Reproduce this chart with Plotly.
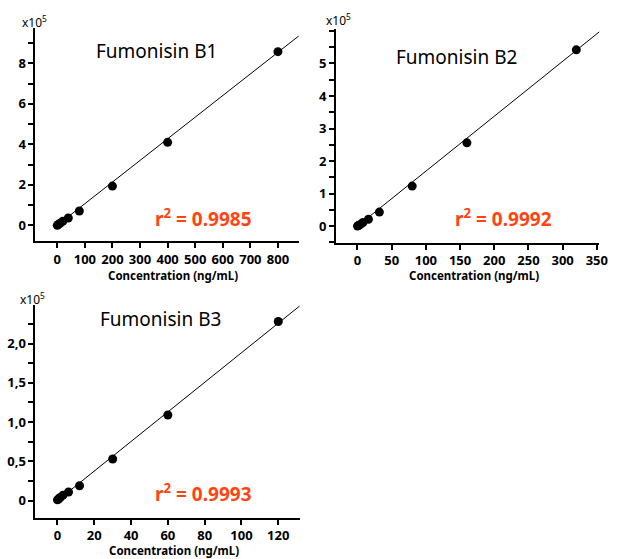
import numpy as np
import plotly.graph_objects as go

# ---------------- data (peak area in units of 1e5) ----------------
b1_conc = [0, 4, 10, 20, 40, 80, 200, 400, 800]
b1_area = [0.0, 0.04, 0.10, 0.20, 0.36, 0.71, 1.94, 4.10, 8.58]

b2_conc = [0, 1.6, 4, 8, 16, 32, 80, 160, 320]
b2_area = [0.0, 0.02, 0.05, 0.11, 0.21, 0.43, 1.23, 2.56, 5.42]

b3_conc = [0, 0.6, 1.5, 3, 6, 12, 30, 60, 120]
b3_area = [0.01, 0.02, 0.04, 0.07, 0.11, 0.19, 0.53, 1.09, 2.28]

titles = ["Fumonisin B1", "Fumonisin B2", "Fumonisin B3"]
r2_text = ["0.9985", "0.9992", "0.9993"]

b1_xticks = [0, 100, 200, 300, 400, 500, 600, 700, 800]
b2_xticks = [0, 50, 100, 150, 200, 250, 300, 350]
b3_xticks = [0, 20, 40, 60, 80, 100, 120]

b1_yticks = [0, 2, 4, 6, 8]
b2_yticks = [0, 1, 2, 3, 4, 5]
b3_yticks = [0, 0.5, 1.0, 1.5, 2.0]
b3_yticktext = ["0", "0,5", "1,0", "1,5", "2,0"]

W, H = 624, 559
FONT = "Noto Sans"
RED = "#FF4412"

fig = go.Figure()

panels = [
    dict(conc=b1_conc, area=b1_area, xdom=(36, 303), ydom=(28, 241), xr=(-79, 875), yr=(-0.775, 9.75),
         xt=b1_xticks, yt=b1_yticks, ytt=[str(v) for v in b1_yticks], ymin=1,
         title_xy=(159, 51), r2_xy=(206, 218), xlab_xy=(176, 275), e_xy=(35, 22)),
    dict(conc=b2_conc, area=b2_area, xdom=(341, 608), ydom=(29, 242.7), xr=(-31.3, 353.5), yr=(-0.51, 6.06),
         xt=b2_xticks, yt=b2_yticks, ytt=[str(v) for v in b2_yticks], ymin=0.5,
         title_xy=(463, 57), r2_xy=(511, 218), xlab_xy=(481, 275), e_xy=(343, 20)),
    dict(conc=b3_conc, area=b3_area, xdom=(36, 304), ydom=(305, 517.7), xr=(-11.95, 131.6), yr=(-0.217, 2.49),
         xt=b3_xticks, yt=b3_yticks, ytt=b3_yticktext, ymin=0.25,
         title_xy=(163, 319), r2_xy=(206, 493), xlab_xy=(177, 550), e_xy=(33, 299)),
]

annotations = []
for i, p in enumerate(panels):
    n = "" if i == 0 else str(i + 1)
    xa, ya = "x" + n, "y" + n
    conc = np.array(p["conc"], dtype=float)
    area = np.array(p["area"], dtype=float)
    slope, icpt = np.polyfit(conc, area, 1)
    fx = np.array([0.0, p["xr"][1] * 1.05])
    fig.add_trace(go.Scatter(x=fx, y=slope * fx, mode="lines",
                             line=dict(color="black", width=1), xaxis=xa, yaxis=ya,
                             showlegend=False, hoverinfo="skip"))
    fig.add_trace(go.Scatter(x=p["conc"], y=p["area"], mode="markers",
                             marker=dict(color="black", size=9), xaxis=xa, yaxis=ya,
                             showlegend=False))
    axis_common = dict(showline=True, linecolor="black", linewidth=2, ticks="outside",
                       ticklen=5, tickwidth=1.5, tickcolor="black", showgrid=False, zeroline=False,
                       tickfont=dict(family=FONT, size=13, color="black", weight="bold"))
    fig.update_layout(**{
        ("xaxis" + n): dict(domain=[p["xdom"][0] / W, p["xdom"][1] / W], range=list(p["xr"]),
                            anchor=ya, tickmode="array", tickvals=p["xt"],
                            ticktext=[str(v) for v in p["xt"]], **axis_common),
        ("yaxis" + n): dict(domain=[1 - p["ydom"][1] / H, 1 - p["ydom"][0] / H], range=list(p["yr"]),
                            anchor=xa, tickmode="array", tickvals=p["yt"], ticktext=p["ytt"],
                            minor=dict(dtick=p["ymin"], tick0=0, ticks="outside", ticklen=5,
                                       tickwidth=1.5, tickcolor="black", showgrid=False),
                            **axis_common),
    })
    tx, ty = p["title_xy"]
    annotations.append(dict(text=titles[i], x=tx / W, y=1 - ty / H, xref="paper", yref="paper",
                            showarrow=False, xanchor="center", yanchor="middle",
                            font=dict(family=FONT, size=19, color="black")))
    rx, ry = p["r2_xy"]
    annotations.append(dict(text="r<sup>2</sup> = " + r2_text[i], x=rx / W, y=1 - ry / H,
                            xref="paper", yref="paper", showarrow=False, xanchor="center",
                            yanchor="middle", font=dict(family=FONT, size=19, color=RED, weight="bold")))
    lx, ly = p["xlab_xy"]
    annotations.append(dict(text="Concentration (ng/mL)", x=lx / W, y=1 - ly / H, xref="paper",
                            yref="paper", showarrow=False, xanchor="center", yanchor="middle",
                            font=dict(family=FONT, size=11.5, color="black", weight="bold")))
    ex, ey = p["e_xy"]
    annotations.append(dict(text="x10<sup>5</sup>", x=ex / W, y=1 - ey / H, xref="paper",
                            yref="paper", showarrow=False, xanchor="center", yanchor="middle",
                            font=dict(family=FONT, size=12, color="black")))

fig.update_layout(width=W, height=H, margin=dict(l=0, r=0, t=0, b=0),
                  paper_bgcolor="white", plot_bgcolor="white", annotations=annotations)

fig.write_html("out.html", config={"displayModeBar": False},
               post_script="document.body.style.margin='0';document.body.style.overflow='hidden';")
